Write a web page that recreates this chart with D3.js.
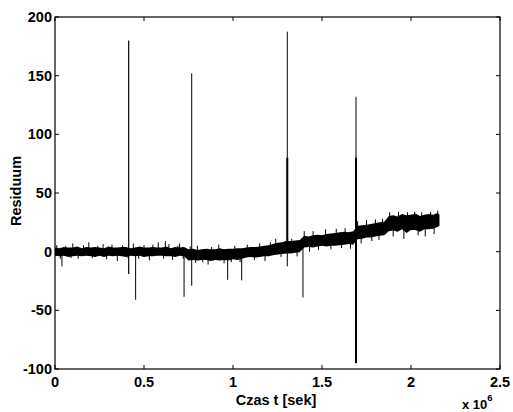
<!DOCTYPE html>
<html><head><meta charset="utf-8">
<script src="https://cdn.jsdelivr.net/npm/d3@7/dist/d3.min.js"></script>
<style>body{margin:0;background:#fff}svg{display:block}text{font-family:"Liberation Sans",Arial,sans-serif;font-weight:bold;fill:#000}</style>
</head><body><svg id="c" width="513" height="412"></svg>
<script>
// time in units of 1e6 s
const bandTime = [0,0.025,0.05,0.075,0.1,0.125,0.15,0.175,0.2,0.225,0.25,0.275,0.3,0.325,0.35,0.375,0.4,0.425,0.45,0.475,0.5,0.525,0.55,0.575,0.6,0.625,0.65,0.675,0.7,0.725,
 0.75,0.775,0.8,0.825,0.85,0.875,0.9,0.925,0.95,0.975,1.0,1.025,1.05,
 1.075,1.1,1.125,1.15,1.175,1.2,1.225,1.25,1.275,1.3,1.325,1.35,1.375,
 1.4,1.425,1.45,1.475,1.5,1.525,1.55,1.575,1.6,1.625,1.65,1.675,
 1.7,1.725,1.75,1.775,1.8,1.825,1.85,
 1.875,1.9,1.925,1.95,1.975,2.0,2.025,2.05,2.075,2.1,2.125,2.15,2.16];
const bandUpper = [3.5,3,4,3.5,3.5,4.5,3,4,3.5,4,3.5,3,4.5,3.5,3.5,4,4,3,3.5,4.5,3.5,3.5,4,3.5,3.5,4.5,3,4,3.5,4,
 2,2.5,1.5,2,2.5,2,2,3,2,2.5,2.5,3,3,
 3.5,4,4,4.5,5,5.5,6.5,7.5,8,9,9,9.5,10,
 13.5,13,14,14.5,14,15,15.5,16,16.5,17,16.5,17.5,
 22,22.5,23,23.5,24.5,25,25.5,
 30.5,31,30,32,31,31.5,32.5,30.5,31.5,32,31.5,33,31.5];
const bandLower = [-3.5,-4,-3.5,-4.5,-4,-3.5,-4,-3.5,-4,-4.5,-3.5,-4.5,-3.5,-4,-3.5,-4,-4.5,-3.5,-4,-3.5,-4.5,-4,-4,-3.5,-3.5,-4,-4,-4.5,-3.5,-4,
 -7.5,-7,-7.5,-7,-7,-8,-7,-7.5,-7,-7.5,-6.5,-7,-6,
 -5,-4.5,-5,-4.5,-4,-4,-3,-2.5,-2,-1.5,-1.5,-1,-0.5,
 3.5,4,3.5,4.5,5,4.5,5,5,5.5,6,6.5,6,
 10.5,11,12,12,13,13.5,14,
 17.5,18,17,19,16,18.5,18.5,17,19,19,19.5,21,22];
// large outliers: time, top value, bottom value, stroke width
const spikeTime   = [0.039,0.414,0.453,0.725,0.768,0.970,1.049,1.305,1.305,1.393,1.691,1.691];
const spikeTop    = [0,180,0,0,152,-2,-2,187.5,80,8,132,80];
const spikeBottom = [-12.5,-19,-41,-38.5,-29,-24,-24.5,-12.5,2,-39,10,-95];
const spikeWidth  = [1,1.2,1,1,1,1,1,1,2,1,1,2];
// small noise excursions off the band (time, value)
const noiseTime  = [0.01,0.03,0.06,0.09,0.1,0.13,0.16,0.19,0.21,0.24,0.27,0.29,0.32,0.35,0.38,0.41,0.44,0.47,0.5,0.53,0.55,0.58,0.61,0.62,0.64,0.66,0.69,0.7,0.72,
 0.76,0.79,0.8,0.83,0.86,0.88,0.92,0.95,0.99,1.01,1.04,1.08,1.12,1.15,1.18,1.21,1.24,1.27,1.33,1.36,1.4,1.43,1.45,1.48,1.52,1.55,1.58,1.61,1.63,1.66,
 1.7,1.72,1.75,1.78,1.8,1.82,1.84,1.88,1.9,1.93,1.96,1.98,2.02,2.04,2.06,2.08,2.11,2.13,2.15];
const noiseValue = [5.5,-6,5,-5.5,7,-6,5.5,8,-5.5,5,6.5,-6.5,6,-8,5.5,-5.5,7,-6,5.5,-7.5,6,8,-6,9,6.5,-7,5,7,-6,
 4.5,-9.5,5,-9,-11,4,6,-10,-9,5,-9,6,-7,7,-8,8,11,-4.5,11,-4,17.5,0,17.5,1.5,19,2,19.5,3,20,2.5,
 26,7,27,9,27.5,10,28,33.5,13,34,11,33.5,34,14,33.5,13,34,15,35];
const yTicks = [-100,-50,0,50,100,150,200];
const xTicks = [0,0.5,1,1.5,2,2.5];
const xTickLabels = ["0","0.5","1","1.5","2","2.5"];

const svg = d3.select("#c");
const L=55,R=500,T=17,B=369;
const x = d3.scaleLinear().domain([0,2.5]).range([L,R]);
const y = d3.scaleLinear().domain([-100,200]).range([B,T]);

const g = svg.append("g");
const band = bandTime.map((t,i)=>({t,u:bandUpper[i],l:bandLower[i]}));
g.append("path").datum(band)
 .attr("d", d3.area().x(d=>x(d.t)).y0(d=>y(d.l)).y1(d=>y(d.u)))
 .attr("fill","#000");
const mid = i => (bandUpper[i]+bandLower[i])/2;
g.selectAll("line.noise").data(noiseTime).enter().append("line")
 .attr("x1",t=>x(t)).attr("x2",t=>x(t))
 .attr("y1",(t,i)=>{const k=d3.bisectLeft(bandTime,t);return y(mid(Math.min(k,bandTime.length-1)));})
 .attr("y2",(t,i)=>y(noiseValue[i]))
 .attr("stroke","#000").attr("stroke-width",1);
g.selectAll("line.spike").data(spikeTime).enter().append("line")
 .attr("x1",t=>x(t)).attr("x2",t=>x(t))
 .attr("y1",(t,i)=>y(spikeTop[i])).attr("y2",(t,i)=>y(spikeBottom[i]))
 .attr("stroke","#000").attr("stroke-width",(t,i)=>spikeWidth[i]);

// box
svg.append("rect").attr("x",L).attr("y",T).attr("width",R-L).attr("height",B-T)
 .attr("fill","none").attr("stroke","#000").attr("stroke-width",1.2);
const tl=4;
const ax = svg.append("g");
yTicks.forEach(v=>{
  ax.append("line").attr("x1",L).attr("x2",L+tl).attr("y1",y(v)).attr("y2",y(v)).attr("stroke","#000");
  ax.append("line").attr("x1",R).attr("x2",R-tl).attr("y1",y(v)).attr("y2",y(v)).attr("stroke","#000");
  ax.append("text").attr("x",L-3).attr("y",y(v)+5).attr("text-anchor","end").attr("font-size",14.5).text(v);
});
xTicks.forEach((v,i)=>{
  ax.append("line").attr("y1",B).attr("y2",B-tl).attr("x1",x(v)).attr("x2",x(v)).attr("stroke","#000");
  ax.append("line").attr("y1",T).attr("y2",T+tl).attr("x1",x(v)).attr("x2",x(v)).attr("stroke","#000");
  ax.append("text").attr("x",x(v)).attr("y",387).attr("text-anchor","middle").attr("font-size",14.5).text(xTickLabels[i]);
});
svg.append("text").attr("x",276).attr("y",405).attr("text-anchor","middle").attr("font-size",14.5).text("Czas t [sek]");
svg.append("text").attr("transform","translate(21,191) rotate(-90)").attr("text-anchor","middle").attr("font-size",14.5).text("Residuum");
const e = svg.append("text").attr("x",462).attr("y",409).attr("font-size",13);
e.append("tspan").text("x 10");
e.append("tspan").attr("dy",-8).attr("font-size",9.5).text("6");
</script></body></html>
